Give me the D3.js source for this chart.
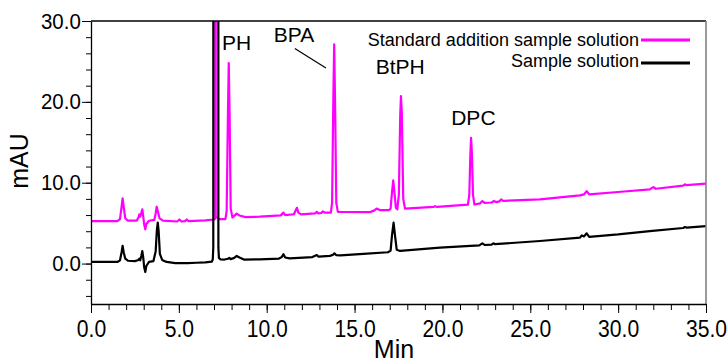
<!DOCTYPE html>
<html>
<head>
<meta charset="utf-8">
<script src="https://cdn.jsdelivr.net/npm/d3@7"></script>
<style>
  html, body { margin: 0; padding: 0; background: #fff; }
  svg { display: block; font-family: "Liberation Sans", Arial, sans-serif; }
</style>
</head>
<body>
<div id="chart"></div>
<script>
// retention time (min), absorbance (mAU)
const sampleTrace = [
  [0.0, 0.2], [1.5, 0.2], [1.65, 0.4], [1.75, 1.5], [1.80, 2.2], [1.86, 1.4], [1.95, 0.6], [2.1, 0.35],
  [2.5, 0.3], [2.7, 0.45], [2.75, 0.6], [2.8, 0.4], [2.87, 1.0], [2.92, 1.55], [2.97, 0.8], [3.03, -0.5],
  [3.09, -1.04], [3.15, -0.3], [3.3, 0.2], [3.55, 0.3], [3.68, 1.5], [3.75, 4.2], [3.8, 5.06], [3.85, 4.0],
  [3.92, 1.2], [4.05, 0.45], [4.3, 0.2], [4.8, 0.05], [5.5, 0.05], [6.0, 0.1], [6.5, 0.15], [6.88, 0.25],
  [6.93, 0.5], [6.96, 2.0], [7.1, 3000], [7.25, 2.0], [7.28, 0.7], [7.36, 0.53], [7.6, 0.5], [7.8, 0.6],
  [7.87, 0.7], [7.95, 0.55], [8.15, 0.7], [8.29, 0.94], [8.45, 0.75], [8.7, 0.5], [9.6, 0.53], [10.7, 0.62],
  [10.85, 0.8], [10.95, 1.15], [11.05, 0.75], [11.3, 0.65], [12.6, 0.8], [12.85, 1.06], [12.95, 0.85],
  [13.6, 0.95], [13.78, 1.1], [13.85, 1.27], [13.95, 1.05], [14.2, 1.02], [15.5, 1.2], [16.9, 1.4],
  [17.05, 1.6], [17.13, 3.5], [17.22, 5.06], [17.3, 3.5], [17.4, 1.7], [17.59, 1.56], [19.86, 1.97],
  [22.1, 2.26], [22.27, 2.5], [22.4, 2.3], [22.8, 2.35], [22.9, 2.5], [23.0, 2.4], [25.55, 2.79],
  [27.83, 3.2], [27.93, 3.49], [28.05, 3.35], [28.21, 3.74], [28.35, 3.3], [30.0, 3.6], [31.8, 4.02],
  [33.7, 4.4], [33.8, 4.52], [33.9, 4.45], [35.0, 4.64]
];

const spikedTrace = [
  [0.0, 5.26], [1.5, 5.26], [1.65, 5.5], [1.74, 7.0], [1.80, 8.06], [1.86, 7.0], [1.95, 5.6], [2.1, 5.3],
  [2.6, 5.3], [2.7, 5.7], [2.75, 6.1], [2.8, 5.8], [2.87, 6.3], [2.92, 6.7], [2.97, 5.9], [3.03, 4.8],
  [3.09, 4.23], [3.15, 4.9], [3.3, 5.3], [3.6, 5.4], [3.68, 6.2], [3.74, 7.03], [3.8, 6.5], [3.9, 5.6],
  [4.1, 5.3], [4.9, 5.2], [5.03, 5.45], [5.15, 5.2], [5.35, 5.25], [5.45, 5.45], [5.55, 5.25], [6.5, 5.35],
  [7.02, 5.45], [7.07, 5.6], [7.085, 3000], [7.10, 5.8], [7.3, 5.5], [7.65, 5.5], [7.72, 6.5], [7.79, 18],
  [7.84, 24.8], [7.89, 18], [7.95, 6.8], [8.05, 5.7], [8.15, 5.9], [8.29, 6.17], [8.45, 5.95], [8.8, 5.75],
  [9.6, 5.8], [10.8, 5.96], [10.95, 6.3], [11.05, 6.0], [11.55, 6.1], [11.65, 6.6], [11.72, 6.9],
  [11.8, 6.3], [11.95, 6.08], [12.75, 6.2], [12.85, 6.4], [12.95, 6.2], [13.1, 6.25], [13.19, 6.45],
  [13.3, 6.3], [13.65, 6.3], [13.72, 7.5], [13.79, 20], [13.84, 27.1], [13.89, 20], [13.96, 7.5],
  [14.05, 6.4], [15.9, 6.37], [16.1, 6.55], [16.26, 6.8], [16.45, 6.6], [16.95, 6.6], [17.05, 6.8],
  [17.13, 8.8], [17.2, 10.3], [17.27, 8.8], [17.35, 6.9], [17.43, 6.7], [17.52, 8.5], [17.6, 18.5],
  [17.64, 20.7], [17.69, 18.5], [17.77, 8], [17.87, 6.8], [19.5, 7.0], [19.58, 7.1], [19.7, 7.0],
  [21.45, 7.3], [21.53, 8.5], [21.59, 13.5], [21.63, 15.55], [21.68, 13.5], [21.74, 8.5], [21.82, 7.3],
  [22.15, 7.45], [22.27, 7.73], [22.4, 7.5], [22.8, 7.55], [22.94, 7.73], [23.05, 7.6], [23.25, 7.7],
  [23.34, 7.94], [23.45, 7.75], [25.55, 7.94], [27.83, 8.43], [28.05, 8.55], [28.21, 8.96], [28.35, 8.56],
  [30.0, 8.85], [31.8, 9.17], [32.0, 9.46], [32.15, 9.25], [33.7, 9.65], [33.8, 9.8], [33.9, 9.7],
  [35.0, 9.88]
];

const seriesNames = ["Standard addition sample solution", "Sample solution"];
const seriesColors = ["#ff00ff", "#000000"];

// peak labels: name, time the text sits at, level of the text baseline
const peakNames = ["PH", "BPA", "BtPH", "DPC"];
const peakLabelTime = [7.45, 10.4, 16.2, 20.5];
const peakLabelLevel = [26.45, 27.4, 23.4, 17.1];

const yMinorTicks = d3.range(-4, 31, 2);
const yMajorTicks = [0, 10, 20, 30];
const xMinorTicks = d3.range(0, 36, 1);
const xMajorTicks = [0, 5, 10, 15, 20, 25, 30, 35];

const W = 728, H = 364;
const plot = { left: 91, right: 706, top: 21, bottom: 304 };

const svg = d3.select("#chart").append("svg")
  .attr("width", W)
  .attr("height", H);

const x = d3.scaleLinear().domain([0, 35]).range([plot.left, plot.right]);
const y = d3.scaleLinear().domain([-5, 30]).range([plot.bottom, plot.top]);

svg.append("clipPath").attr("id", "plotClip")
  .append("rect")
  .attr("x", plot.left).attr("y", plot.top)
  .attr("width", plot.right - plot.left)
  .attr("height", plot.bottom - plot.top);

const line = d3.line()
  .x(d => x(d[0]))
  .y(d => y(d[1]));

// traces: magenta first, black drawn over it
[spikedTrace, sampleTrace].forEach((tr, i) => {
  svg.append("path")
    .datum(tr)
    .attr("clip-path", "url(#plotClip)")
    .attr("fill", "none")
    .attr("stroke", seriesColors[i])
    .attr("stroke-width", 2.2)
    .attr("stroke-linejoin", "round")
    .attr("d", line);
});

// frame: top black, right grey
svg.append("line")
  .attr("x1", plot.left).attr("x2", plot.right)
  .attr("y1", plot.top).attr("y2", plot.top)
  .attr("stroke", "#000").attr("stroke-width", 1.3);
svg.append("line")
  .attr("x1", plot.right).attr("x2", plot.right)
  .attr("y1", plot.top).attr("y2", plot.bottom)
  .attr("stroke", "#808080").attr("stroke-width", 1.6);

// Y-axis
svg.append("g")
  .attr("transform", `translate(${plot.left},0)`)
  .call(d3.axisLeft(y).tickValues(yMinorTicks).tickSize(5).tickSizeOuter(0).tickFormat(""))
  .call(g => g.select(".domain").attr("stroke-width", 1.3));

svg.append("g")
  .attr("transform", `translate(${plot.left},0)`)
  .call(d3.axisLeft(y).tickValues(yMajorTicks).tickSize(9).tickPadding(2).tickSizeOuter(0).tickFormat(d3.format(".1f")))
  .call(g => g.select(".domain").remove())
  .selectAll("text")
  .attr("font-family", null)
  .style("font-size", "22px")
  .style("fill", "#000")
  .attr("transform", "scale(0.93,1)");

// X-axis
svg.append("g")
  .attr("transform", `translate(0,${plot.bottom})`)
  .call(d3.axisBottom(x).tickValues(xMinorTicks).tickSize(6).tickSizeOuter(0).tickFormat(""))
  .call(g => g.select(".domain").attr("stroke-width", 1.3));

svg.append("g")
  .attr("transform", `translate(0,${plot.bottom})`)
  .call(d3.axisBottom(x).tickValues(xMajorTicks).tickSize(9).tickPadding(7).tickSizeOuter(0).tickFormat(d3.format(".1f")))
  .call(g => g.select(".domain").remove())
  .selectAll("text")
  .attr("font-family", null)
  .style("font-size", "24px")
  .style("fill", "#000")
  .attr("transform", "scale(0.88,1)");

// axis titles
svg.append("text")
  .attr("x", 394).attr("y", 358)
  .attr("text-anchor", "middle")
  .style("font-size", "25px")
  .text("Min");

svg.append("text")
  .attr("transform", "translate(28,161) rotate(-90)")
  .attr("text-anchor", "middle")
  .style("font-size", "25px")
  .text("mAU");

// peak labels
peakNames.forEach((name, i) => {
  svg.append("text")
    .attr("x", x(peakLabelTime[i]))
    .attr("y", y(peakLabelLevel[i]))
    .style("font-size", "21px")
    .text(name);
});

// BPA leader line
svg.append("line")
  .attr("x1", x(11.6)).attr("y1", y(26.6))
  .attr("x2", x(13.37)).attr("y2", y(24.2))
  .attr("stroke", "#000").attr("stroke-width", 1.2);

// legend
const legendY = [45.5, 66.5];
seriesNames.forEach((name, i) => {
  svg.append("text")
    .attr("x", 639).attr("y", legendY[i])
    .attr("text-anchor", "end")
    .style("font-size", "18px")
    .text(name);
  svg.append("line")
    .attr("x1", 641).attr("x2", 690)
    .attr("y1", legendY[i] - (i === 0 ? 5.5 : 3.5))
    .attr("y2", legendY[i] - (i === 0 ? 5.5 : 3.5))
    .attr("stroke", seriesColors[i])
    .attr("stroke-width", 3);
});
</script>
</body>
</html>
